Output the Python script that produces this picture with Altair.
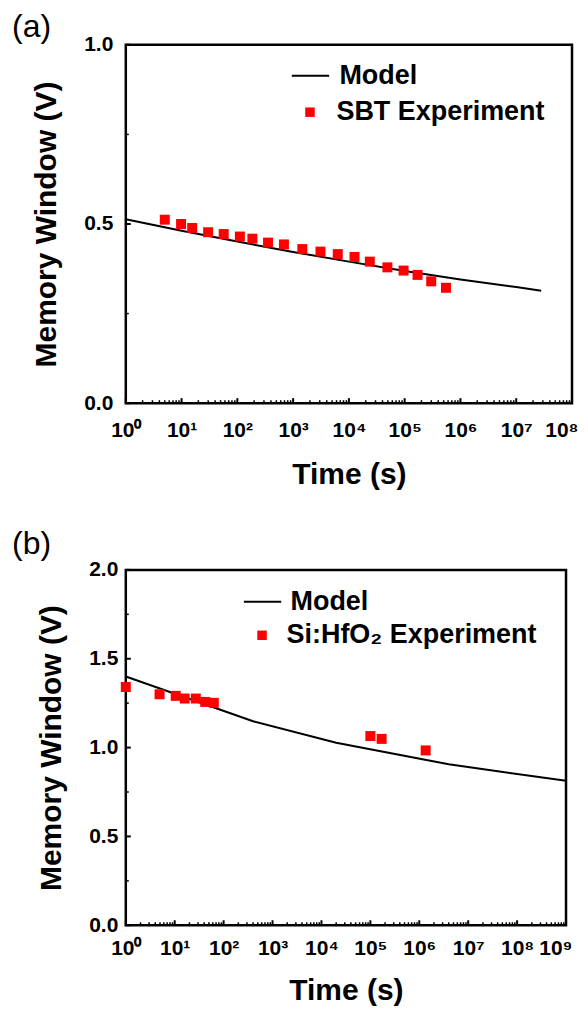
import altair as alt
import pandas as pd

# ---------------- data ----------------
# Panel (a): SBT
a_model_t = [1, 10, 100, 1e3, 1e4, 1e5, 1e6, 1e7, 2.8e7]
a_model_v = [0.513, 0.481, 0.451, 0.422, 0.395, 0.369, 0.345, 0.324, 0.314]
a_exp_t = [5.0, 9.8, 15.5, 29.9, 56.9, 111, 186, 355, 684, 1462, 3090, 6310,
           12600, 23700, 49000, 95500, 170000, 299000, 550000]
a_exp_v = [0.512, 0.500, 0.489, 0.477, 0.472, 0.465, 0.459, 0.448, 0.443, 0.430,
           0.423, 0.416, 0.408, 0.395, 0.379, 0.370, 0.358, 0.340, 0.322]

# Panel (b): Si:HfO2
b_model_t = [1, 400, 2e4, 4e6, 1e9]
b_model_v = [1.400, 1.148, 1.027, 0.906, 0.813]
b_exp_t = [1, 4.9, 10.5, 16, 27, 42, 63, 1.0e5, 1.7e5, 1.35e6]
b_exp_v = [1.341, 1.300, 1.291, 1.276, 1.276, 1.257, 1.252, 1.065, 1.049, 0.984]

FONT = "Liberation Sans"
SUPEXPR = ("'10' + substring('\u2070\u00b9\u00b2\u00b3\u2074\u2075\u2076\u2077\u2078\u2079', "
           "round(log(datum.value)/LN10), round(log(datum.value)/LN10)+1)")


def panel(label, model_t, model_v, exp_t, exp_v, exp_name, xmax_exp, ymax,
          w, h, ylabpad, xlabpad, xtitlepad, label_y, leg_model, leg_exp):
    decades = [10 ** k for k in range(xmax_exp + 1)]
    minors = [m * 10 ** k for k in range(xmax_exp) for m in range(2, 10)]
    ymaj = [i * 0.5 for i in range(int(ymax / 0.5) + 1)]
    ymin = [i * 0.5 + 0.25 for i in range(int(ymax / 0.5))]
    last = 10 ** xmax_exp

    xs = alt.Scale(type="log", domain=[1, last], nice=False)
    ys = alt.Scale(domain=[0, ymax], nice=False, zero=False)

    xax = alt.Axis(values=decades, labelExpr=SUPEXPR, title="Time (s)",
                   ticks=False, domain=False, grid=False, labelFlush=False,
                   labelOverlap=False, labelPadding=xlabpad, labelFont=FONT,
                   labelFontSize=21, labelFontWeight="bold", labelColor="black",
                   labelAlign={"condition": {"test": f"datum.value >= {last / 2}",
                                             "value": "right"}, "value": "center"},
                   labelOffset={"condition": {"test": f"datum.value >= {last / 2}",
                                              "value": 6}, "value": 0},
                   titleFont=FONT, titleFontSize=30, titleFontWeight="bold",
                   titleColor="black", titlePadding=xtitlepad)
    yax = alt.Axis(values=ymaj, format=".1f", title="Memory Window (V)",
                   ticks=False, domain=False, grid=False, labelPadding=ylabpad,
                   labelFont=FONT, labelFontSize=21, labelFontWeight="bold",
                   labelColor="black", titleFont=FONT, titleFontSize=30,
                   titleFontWeight="bold", titleColor="black", titlePadding=22)

    X = alt.X("t:Q", scale=xs, axis=xax)
    Y = alt.Y("v:Q", scale=ys, axis=yax)

    df_model = pd.DataFrame({"t": model_t, "v": model_v, "s": "Model"})
    df_exp = pd.DataFrame({"t": exp_t, "v": exp_v, "s": exp_name})

    model = alt.Chart(df_model).mark_line(strokeWidth=2).encode(
        x=X, y=Y,
        stroke=alt.Stroke("s:N", scale=alt.Scale(domain=["Model"], range=["black"]),
                          legend=alt.Legend(orient="none", legendX=leg_model[0],
                                            legendY=leg_model[1], title=None,
                                            symbolType="stroke", symbolSize=1400,
                                            symbolStrokeWidth=2, padding=0,
                                            labelFont=FONT, labelFontSize=27,
                                            labelFontWeight="bold", labelColor="black",
                                            labelOffset=leg_model[2], labelLimit=0)),
    )
    exp = alt.Chart(df_exp).mark_square(size=100, opacity=1, strokeWidth=0).encode(
        x=X, y=Y,
        fill=alt.Fill("s:N", scale=alt.Scale(domain=[exp_name], range=["#ff0000"]),
                      legend=alt.Legend(orient="none", legendX=leg_exp[0],
                                        legendY=leg_exp[1], title=None,
                                        symbolType="square", symbolSize=90,
                                        symbolStrokeWidth=0, symbolOpacity=1, padding=0,
                                        labelFont=FONT, labelFontSize=27,
                                        labelFontWeight="bold", labelColor="black",
                                        labelOffset=leg_exp[2], labelLimit=0)),
    )

    xt_major = alt.Chart(pd.DataFrame({"t": decades})).mark_rule(
        color="black", strokeWidth=2).encode(x=X, y=alt.value(h), y2=alt.value(h - 5))
    xt_minor = alt.Chart(pd.DataFrame({"t": minors})).mark_rule(
        color="black", strokeWidth=1.5).encode(x=X, y=alt.value(h), y2=alt.value(h - 3))
    yt_major = alt.Chart(pd.DataFrame({"v": ymaj})).mark_rule(
        color="black", strokeWidth=2).encode(y=Y, x=alt.value(0), x2=alt.value(5))
    yt_minor = alt.Chart(pd.DataFrame({"v": ymin})).mark_rule(
        color="black", strokeWidth=1.5).encode(y=Y, x=alt.value(0), x2=alt.value(3))

    tag = alt.Chart(pd.DataFrame({"lab": [label]})).mark_text(
        align="left", baseline="top", font=FONT, fontSize=32, color="black"
    ).encode(x=alt.value(-114), y=alt.value(label_y), text="lab:N")

    return alt.layer(xt_minor, xt_major, yt_minor, yt_major, model, exp, tag).properties(
        width=w, height=h)


pa = panel("(a)", a_model_t, a_model_v, a_exp_t, a_exp_v, "SBT Experiment",
           8, 1.0, 447, 359, 13, 16, 19, -33, (165, 11, 9), (171, 54, 13))
pb = panel("(b)", b_model_t, b_model_v, b_exp_t, b_exp_v, "Si:HfO\u2082 Experiment",
           9, 2.0, 441, 356, 8, 12, 17, -41, (117, 12, 8), (123, 52, 11))

chart = alt.vconcat(pa, pb, spacing=35).resolve_scale(
    x="independent", y="independent", stroke="independent", fill="independent"
).configure_view(stroke="black", strokeWidth=2.5).properties(
    padding={"left": 2, "top": 0, "right": 0, "bottom": 0}
)

chart.save("out.html", embed_options={"renderer": "svg", "actions": False})
